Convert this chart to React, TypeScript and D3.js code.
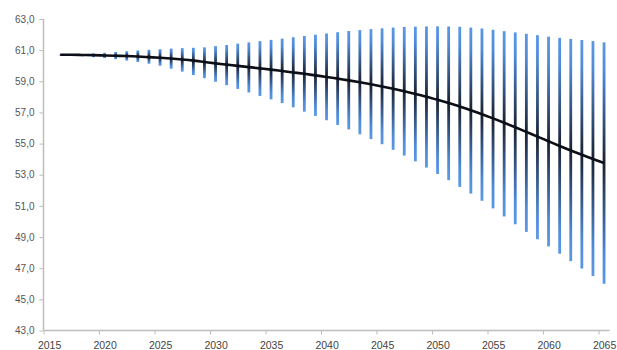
import React, { useEffect, useRef } from 'react';
import * as d3 from 'd3';

// one value per year, 2016 .. 2065
const years = d3.range(2016, 2066);

const upper = [
  60.70, 60.72, 60.75, 60.79, 60.83, 60.88, 60.93, 60.98, 61.02, 61.06,
  61.10, 61.13, 61.15, 61.18, 61.26, 61.33, 61.42, 61.50, 61.58, 61.66,
  61.74, 61.83, 61.91, 61.99, 62.07, 62.15, 62.23, 62.29, 62.35, 62.40,
  62.45, 62.49, 62.51, 62.52, 62.53, 62.52, 62.50, 62.45, 62.39, 62.31,
  62.22, 62.14, 62.05, 61.96, 61.87, 61.79, 61.72, 61.65, 61.58, 61.50,
];

const lower = [
  60.66, 60.64, 60.60, 60.55, 60.49, 60.42, 60.33, 60.24, 60.13, 60.00,
  59.81, 59.62, 59.40, 59.20, 58.97, 58.75, 58.51, 58.28, 58.06, 57.84,
  57.60, 57.33, 57.05, 56.78, 56.50, 56.20, 55.91, 55.60, 55.29, 54.96,
  54.60, 54.23, 53.86, 53.46, 53.05, 52.65, 52.22, 51.79, 51.33, 50.84,
  50.32, 49.82, 49.33, 48.86, 48.40, 47.93, 47.45, 46.98, 46.50, 46.00,
];

const central = [
  60.70, 60.70, 60.69, 60.68, 60.66, 60.64, 60.62, 60.59, 60.55, 60.51,
  60.46, 60.40, 60.33, 60.24, 60.15, 60.07, 59.99, 59.91, 59.83, 59.75,
  59.66, 59.57, 59.48, 59.38, 59.28, 59.17, 59.06, 58.94, 58.81, 58.67,
  58.52, 58.36, 58.19, 58.01, 57.81, 57.60, 57.38, 57.14, 56.89, 56.62,
  56.34, 56.05, 55.75, 55.45, 55.15, 54.85, 54.56, 54.28, 54.01, 53.75,
];

const yTicks = [43, 45, 47, 49, 51, 53, 55, 57, 59, 61, 63];
const xTicks = [2015, 2020, 2025, 2030, 2035, 2040, 2045, 2050, 2055, 2060, 2065];

export default function App() {
  const ref = useRef<SVGSVGElement>(null);

  useEffect(() => {
    const svg = d3.select(ref.current);
    svg.selectAll('*').remove();

    const x = d3.scaleLinear().domain([2015, 2065]).range([43.5, 598.5]);
    const y = d3.scaleLinear().domain([43, 63]).range([330.5, 19]);
    const fmt = (v: number) => v.toFixed(1).replace('.', ',');

    const grad = svg.append('defs')
      .append('linearGradient')
      .attr('id', 'barGrad')
      .attr('x1', 0).attr('y1', 0).attr('x2', 0).attr('y2', 1);
    grad.append('stop').attr('offset', '0%').attr('stop-color', '#5a98e6');
    grad.append('stop').attr('offset', '12%').attr('stop-color', '#4f8bd8');
    grad.append('stop').attr('offset', '50%').attr('stop-color', '#1a2132');
    grad.append('stop').attr('offset', '88%').attr('stop-color', '#4f8bd8');
    grad.append('stop').attr('offset', '100%').attr('stop-color', '#5a98e6');

    // axes
    const yAxis = svg.append('g')
      .attr('transform', `translate(${x(2015)},0)`)
      .call(d3.axisLeft(y).tickValues(yTicks).tickSize(4).tickFormat(d => fmt(+d)));
    yAxis.select('.domain').attr('stroke', '#bdbdbd').attr('stroke-width', 1.5)
      .attr('d', `M0,${y(63)}V${y(43)}`);
    yAxis.selectAll('.tick line').attr('stroke', '#bdbdbd');
    yAxis.selectAll('.tick text')
      .attr('x', -9)
      .attr('fill', '#555')
      .style('font-family', 'Liberation Sans, Arial, sans-serif')
      .style('font-size', '10px');

    const xAxis = svg.append('g')
      .attr('transform', `translate(0,${y(43)})`)
      .call(d3.axisBottom(x).tickValues(xTicks).tickSize(4).tickFormat(d => String(d)));
    xAxis.select('.domain').attr('stroke', '#bdbdbd').attr('stroke-width', 1.5)
      .attr('d', `M${x(2015)},0H${x(2066)}`);
    xAxis.selectAll('.tick line').attr('stroke', '#bdbdbd');
    xAxis.selectAll('.tick text')
      .attr('x', x(2015.5) - x(2015))
      .attr('y', 18.5)
      .attr('dy', 0)
      .attr('fill', '#444')
      .style('font-family', 'Liberation Sans, Arial, sans-serif')
      .style('font-size', '10.5px');

    // range bars
    svg.append('g')
      .selectAll('rect')
      .data(years)
      .enter()
      .append('rect')
      .attr('x', d => x(d + 0.5) - 1.4)
      .attr('y', (d, i) => y(upper[i]))
      .attr('width', 2.8)
      .attr('height', (d, i) => Math.max(0.5, y(lower[i]) - y(upper[i])))
      .attr('fill', 'url(#barGrad)');

    // central line
    const line = d3.line<number>()
      .x(d => x(d + 0.5))
      .y((d, i) => y(central[i]))
      .curve(d3.curveMonotoneX);

    svg.append('path')
      .datum(years)
      .attr('d', line)
      .attr('fill', 'none')
      .attr('stroke', '#0d0f18')
      .attr('stroke-width', 2.6);
  }, []);

  return (
    <div style={{ position: 'absolute', left: 0, top: 0 }}>
      <svg ref={ref} width={617} height={350} style={{ display: 'block', background: '#fff' }} />
    </div>
  );
}
